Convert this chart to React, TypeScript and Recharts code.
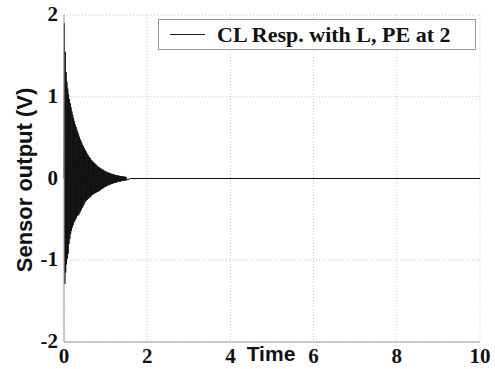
import {
  LineChart,
  Line,
  XAxis,
  YAxis,
  CartesianGrid,
  Legend,
} from "recharts";

// positive peaks, one every 0.02 s starting at 0.01 s
const upperPeaks = [
  1.9, 1.55, 1.3, 1.18, 1.1, 1.03, 0.97, 0.92, 0.87, 0.82,
  0.78, 0.74, 0.7, 0.66, 0.63, 0.6, 0.57, 0.54, 0.51, 0.48,
  0.46, 0.43, 0.41, 0.39, 0.37, 0.35, 0.33, 0.31, 0.29, 0.28,
  0.26, 0.25, 0.23, 0.22, 0.21, 0.2, 0.19, 0.18, 0.17, 0.16,
  0.15, 0.14, 0.135, 0.13, 0.12, 0.115, 0.11, 0.1, 0.095, 0.09,
  0.085, 0.08, 0.076, 0.072, 0.068, 0.064, 0.06, 0.056, 0.053, 0.05,
  0.047, 0.044, 0.042, 0.039, 0.037, 0.035, 0.033, 0.031, 0.029, 0.027,
  0.026, 0.024, 0.023, 0.021, 0.02,
];

// negative peaks, one every 0.02 s starting at 0.02 s
const lowerPeaks = [
  -1.29, -1.15, -1.05, -0.98, -0.92, -0.8, -0.74, -0.68, -0.64, -0.6,
  -0.57, -0.54, -0.52, -0.5, -0.48, -0.46, -0.45, -0.44, -0.42, -0.4,
  -0.38, -0.36, -0.34, -0.32, -0.3, -0.28, -0.27, -0.26, -0.25, -0.24,
  -0.23, -0.22, -0.21, -0.2, -0.195, -0.19, -0.18, -0.175, -0.17, -0.165,
  -0.16, -0.155, -0.15, -0.14, -0.13, -0.125, -0.12, -0.11, -0.105, -0.1,
  -0.095, -0.09, -0.085, -0.08, -0.076, -0.072, -0.068, -0.064, -0.06, -0.057,
  -0.054, -0.051, -0.048, -0.045, -0.042, -0.04, -0.037, -0.035, -0.033, -0.031,
  -0.029, -0.027, -0.025, -0.023, -0.021,
];

const peakStep = 0.02;
const settleTimes = [1.6, 2, 10];
const settleValues = [0, 0, 0];

const xTicks = [0, 2, 4, 6, 8, 10];
const yTicks = [-2, -1, 0, 1, 2];
const seriesName = "CL Resp. with L, PE at 2";

const data: { t: number; v: number }[] = [{ t: 0, v: 0 }];
upperPeaks.forEach((u, i) => {
  data.push({ t: 0.01 + i * peakStep, v: u });
  if (i < lowerPeaks.length) data.push({ t: 0.02 + i * peakStep, v: lowerPeaks[i] });
});
settleTimes.forEach((t, i) => data.push({ t, v: settleValues[i] }));

const serif = "'Liberation Serif', 'Times New Roman', serif";
const sans = "'Liberation Sans', Arial, sans-serif";
const frame = "#9a9a9a";

const XTick = ({ x, y, payload }: any) => (
  <text x={x} y={y + 21} textAnchor="middle" fontFamily={serif} fontWeight="bold" fontSize={21} fill="#111">
    {payload.value}
  </text>
);

const YTick = ({ x, y, payload }: any) => (
  <text x={x} y={y + 6} textAnchor="end" fontFamily={serif} fontWeight="bold" fontSize={21} fill="#111">
    {payload.value}
  </text>
);

const LegendBox = () => (
  <div
    style={{
      position: "absolute",
      left: 158,
      top: 19,
      width: 318,
      height: 31,
      boxSizing: "border-box",
      border: "1px solid #999",
      background: "#fff",
      display: "flex",
      alignItems: "center",
    }}
  >
    <div style={{ width: 35, height: 1, background: "#222", marginLeft: 11, marginRight: 12 }} />
    <span style={{ fontFamily: serif, fontWeight: "bold", fontSize: 22, color: "#111", whiteSpace: "nowrap" }}>
      {seriesName}
    </span>
  </div>
);

export default function App() {
  return (
    <div style={{ position: "absolute", left: 0, top: 0, width: 495, height: 369, background: "#fff" }}>
      <LineChart width={495} height={369} data={data} margin={{ top: 15, right: 15, left: 0, bottom: 0 }}>
        <CartesianGrid stroke="#c8c8c8" strokeDasharray="1 2" />
        <XAxis
          dataKey="t"
          type="number"
          domain={[0, 10]}
          ticks={xTicks}
          height={27}
          tickSize={0}
          tickMargin={0}
          tickLine={false}
          axisLine={{ stroke: frame }}
          tick={<XTick />}
          label={{
            content: () => (
              <text x={271} y={361} textAnchor="middle" fontFamily={sans} fontWeight="bold" fontSize={21} fill="#111">
                Time
              </text>
            ),
          }}
        />
        <XAxis xAxisId="top" orientation="top" type="number" domain={[0, 10]} height={0} tick={false} tickLine={false} axisLine={{ stroke: frame }} />
        <YAxis
          type="number"
          domain={[-2, 2]}
          ticks={yTicks}
          width={64}
          tickSize={0}
          tickMargin={6}
          tickLine={false}
          axisLine={{ stroke: frame }}
          tick={<YTick />}
          label={{
            content: () => (
              <text
                x={24}
                y={180}
                transform="rotate(-90 24 180)"
                textAnchor="middle"
                dominantBaseline="central"
                fontFamily={sans}
                fontWeight="bold"
                fontSize={22}
                fill="#111"
              >
                Sensor output (V)
              </text>
            ),
          }}
        />
        <YAxis yAxisId="right" orientation="right" domain={[-2, 2]} width={0} tick={false} tickLine={false} axisLine={{ stroke: frame }} />
        <Legend layout="horizontal" verticalAlign="middle" align="center" content={<LegendBox />} wrapperStyle={{ position: "absolute", left: 0, top: 0 }} />
        <Line
          type="linear"
          dataKey="v"
          name={seriesName}
          stroke="#111"
          strokeWidth={1}
          dot={false}
          isAnimationActive={false}
        />
      </LineChart>
    </div>
  );
}
